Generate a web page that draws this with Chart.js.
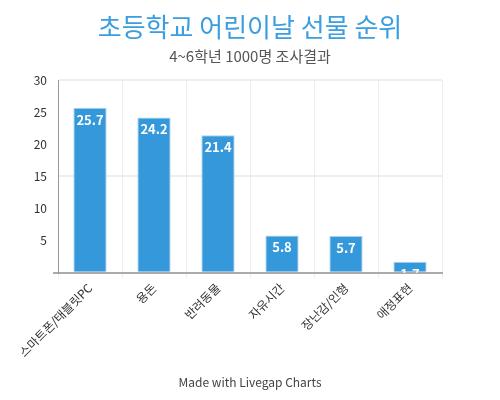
<!DOCTYPE html>
<html><head><meta charset="utf-8">
<script src="https://cdn.jsdelivr.net/npm/chart.js@4/dist/chart.umd.min.js"></script>
<style>html,body{margin:0;padding:0;background:#fff}#wrap{width:500px;height:400px}</style>
</head><body><div id="wrap"><canvas id="c"></canvas></div>
<script>
const categories = ['스마트폰/태블릿PC','용돈','반려동물','자유시간','장난감/인형','애정표현'];
const values = [25.7, 24.2, 21.4, 5.8, 5.7, 1.7];
const yTicks = [0, 5, 10, 15, 20, 25, 30];
const FONT = '"Noto Sans CJK KR", "Noto Sans", sans-serif';

const labelPlugin = {
  id: 'barLabels',
  afterDatasetsDraw(chart) {
    const ctx = chart.ctx, a = chart.chartArea;
    ctx.save();
    ctx.beginPath(); ctx.rect(a.left, a.top, a.right - a.left, a.bottom - a.top); ctx.clip();
    ctx.fillStyle = '#fff';
    ctx.font = 'bold 13px ' + FONT;
    ctx.textAlign = 'center'; ctx.textBaseline = 'middle';
    chart.getDatasetMeta(0).data.forEach((bar, i) => {
      ctx.fillText(String(values[i]), bar.x, bar.y + 12);
    });
    ctx.restore();
  }
};

new Chart(document.getElementById('c'), {
  type: 'bar',
  data: { labels: categories, datasets: [{ data: values, backgroundColor: '#3498db', borderColor: '#a9d3f0', borderWidth: 1, barPercentage: 0.52, categoryPercentage: 1 }] },
  options: {
    responsive: true, maintainAspectRatio: false, animation: false,
    layout: { padding: { top: 10, left: 10, right: 10, bottom: 10 } },
    plugins: {
      legend: { display: false }, tooltip: { enabled: false },
      title: { display: true, text: '초등학교 어린이날 선물 순위', color: '#3a9ee0', font: { family: FONT, size: 26, weight: 'normal' }, padding: { top: 2, bottom: 2 } },
      subtitle: { display: true, text: '4~6학년 1000명 조사결과', color: '#555', font: { family: FONT, size: 15 }, padding: { top: 2, bottom: 15 } }
    },
    scales: {
      x: {
        grid: { color: '#eeeeee', lineWidth: 1, offset: true, drawTicks: true, tickLength: 6, tickColor: '#eee' },
        border: { color: '#aaaaaa', width: 2 },
        ticks: { color: '#333', font: { family: FONT, size: 12 }, maxRotation: 45, minRotation: 45, padding: 2 },
        title: { display: true, text: 'Made with Livegap Charts', color: '#444', font: { family: FONT, size: 12 }, padding: { top: 14, bottom: 0 } }
      },
      y: {
        min: 0, max: 30,
        afterBuildTicks: (s) => { s.ticks = yTicks.map(v => ({ value: v })); },
        afterFit: (s) => { s.width = 48; },
        grid: { color: (c) => (c.tick && (c.tick.value === 15 || c.tick.value === 30)) ? '#eeeeee' : 'rgba(0,0,0,0)', lineWidth: 2, drawTicks: true, tickLength: 5, tickColor: (c) => c.tick && c.tick.value === 0 ? '#aaa' : 'rgba(0,0,0,0)' },
        border: { color: '#999999', width: 1 },
        ticks: { color: '#333', font: { family: FONT, size: 12 }, padding: 6, callback: (v) => v === 0 ? '' : v }
      },
      yR: {
        position: 'right', min: 0, max: 30, display: true,
        afterFit: (s) => { s.width = 48; },
        grid: { display: false, drawOnChartArea: false },
        border: { display: false },
        ticks: { display: false }
      }
    }
  },
  plugins: [labelPlugin]
});
</script></body></html>
